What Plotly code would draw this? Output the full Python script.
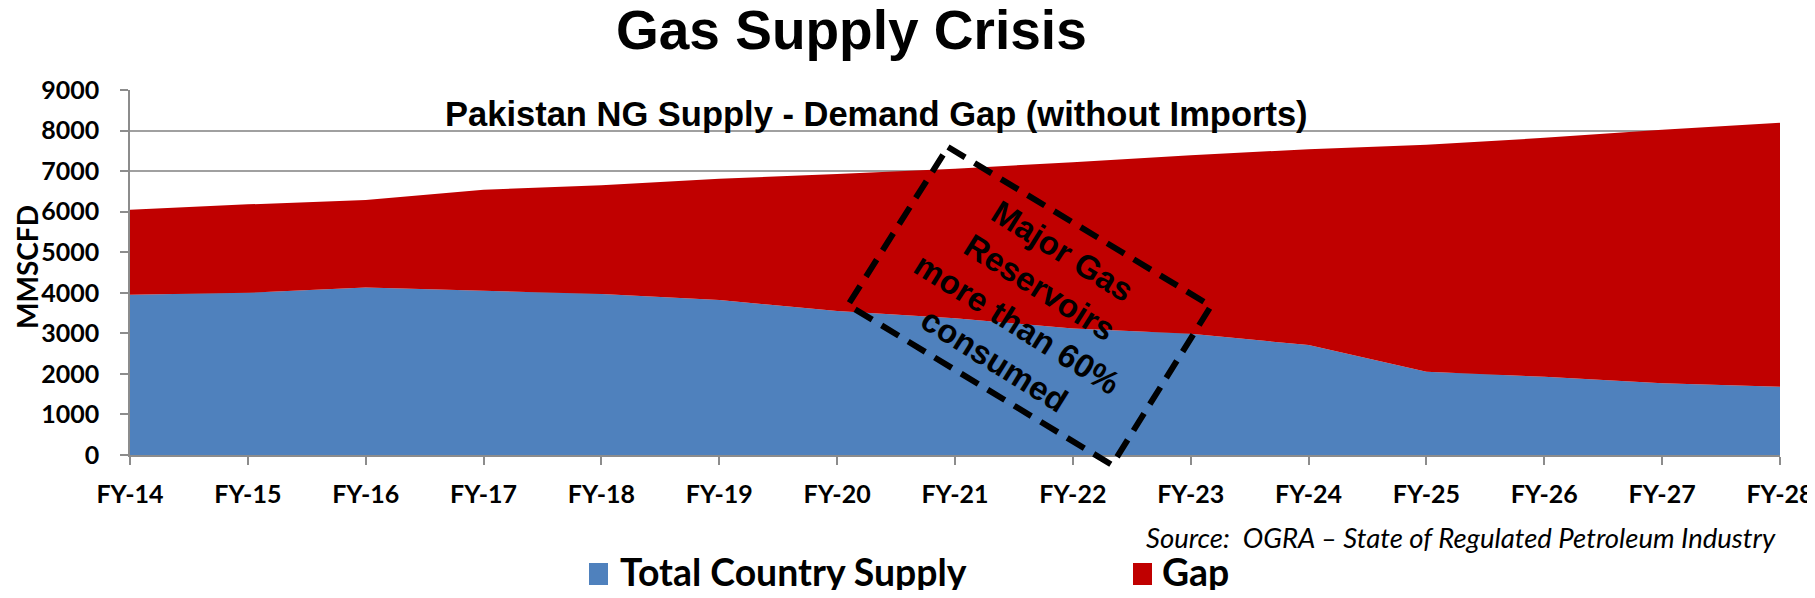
import plotly.graph_objects as go

# ---- data (MMSCFD) ----
years = ["FY-14", "FY-15", "FY-16", "FY-17", "FY-18", "FY-19", "FY-20", "FY-21",
         "FY-22", "FY-23", "FY-24", "FY-25", "FY-26", "FY-27", "FY-28"]
total_supply = [3950, 4000, 4130, 4050, 3970, 3820, 3550, 3370, 3120, 2990, 2710, 2050, 1930, 1770, 1680]
gap = [2100, 2180, 2160, 2490, 2680, 2990, 3380, 3690, 4100, 4400, 4830, 5600, 5890, 6250, 6510]
y_ticks = [0, 1000, 2000, 3000, 4000, 5000, 6000, 7000, 8000, 9000]

BLUE = "#4F81BD"
RED = "#C00000"
OFF = 8                       # default page body margin
W, H = 1815 - 2 * OFF, 598 - 2 * OFF
# plot area in page pixels: x 130..1780, y 90..455
L, T = 130 - OFF, 90 - OFF
R, B = W - (1780 - OFF), H - (455 - OFF)
PW, PH = W - L - R, H - T - B


def px(x):
    """page pixel x -> paper"""
    return (x - OFF - L) / PW


def py(y):
    """page pixel y -> paper"""
    return (H - B - (y - OFF)) / PH


fig = go.Figure()
fig.add_trace(go.Scatter(x=years, y=total_supply, name="Total Country Supply", stackgroup="one",
                         mode="none", fillcolor=BLUE, showlegend=False))
fig.add_trace(go.Scatter(x=years, y=gap, name="Gap", stackgroup="one",
                         mode="none", fillcolor=RED, showlegend=False))

grid = "#A0A0A0"
fig.update_layout(
    width=W, height=H,
    margin=dict(l=L, r=R, t=T, b=B, autoexpand=False),
    paper_bgcolor="white", plot_bgcolor="white",
    showlegend=False,
    xaxis=dict(type="category", range=[0, len(years) - 1], showgrid=False, automargin=False,
               showline=True, linecolor="#8C8C8C", linewidth=1.5,
               ticks="outside", ticklen=8, tickcolor="#8C8C8C", tickwidth=1.5,
               tickfont=dict(family="Lato", size=25, color="black", weight="bold"),
               ticklabelstandoff=8),
    yaxis=dict(range=[0, 9000], tickvals=y_ticks, showgrid=True, gridcolor=grid, gridwidth=1.5,
               automargin=False,
               showline=True, linecolor="#8C8C8C", linewidth=1.5, zeroline=False,
               ticks="outside", ticklen=8, tickcolor="#8C8C8C", tickwidth=1.5,
               tickfont=dict(family="Lato", size=25, color="black", weight="bold"),
               ticklabelstandoff=16),
)

ann = []
# main title
ann.append(dict(text="<b>Gas Supply Crisis</b>", x=px(851), y=py(30), xref="paper", yref="paper",
                xanchor="center", yanchor="middle", showarrow=False,
                font=dict(family="Liberation Sans", size=55, color="black")))
# subtitle
ann.append(dict(text="<b>Pakistan NG Supply - Demand Gap (without Imports)</b>", x=px(876), y=py(114),
                xref="paper", yref="paper", xanchor="center", yanchor="middle", showarrow=False,
                font=dict(family="Liberation Sans", size=34.5, color="black")))
# y-axis title
ann.append(dict(text="<b>MMSCFD</b>", x=px(27), y=py(267), xref="paper", yref="paper",
                xanchor="center", yanchor="middle", showarrow=False, textangle=-90,
                font=dict(family="Lato", size=28, color="black")))
# source
ann.append(dict(text="<i>Source:  OGRA – State of Regulated Petroleum Industry</i>", x=px(1778), y=py(537),
                xref="paper", yref="paper", xanchor="right", yanchor="middle", showarrow=False,
                font=dict(family="Lato", size=27.5, color="black")))
# rotated box text
ann.append(dict(text="<b>Major Gas<br>Reservoirs<br>more than 60%<br>consumed</b>", x=px(1029), y=py(306),
                xref="paper", yref="paper", xanchor="center", yanchor="middle", showarrow=False,
                textangle=32, font=dict(family="Liberation Sans", size=33, color="black")))
# legend texts
ann.append(dict(text="<b>Total Country Supply</b>", x=px(618), y=py(571), xref="paper", yref="paper",
                xanchor="left", yanchor="middle", showarrow=False,
                font=dict(family="Lato", size=37.4, color="black")))
ann.append(dict(text="<b>Gap</b>", x=px(1160), y=py(571), xref="paper", yref="paper",
                xanchor="left", yanchor="middle", showarrow=False,
                font=dict(family="Lato", size=37.4, color="black")))

shapes = []
# legend swatches
shapes.append(dict(type="rect", xref="paper", yref="paper", x0=px(589), x1=px(608), y0=py(585), y1=py(563),
                   fillcolor=BLUE, line=dict(width=0)))
shapes.append(dict(type="rect", xref="paper", yref="paper", x0=px(1133), x1=px(1152), y0=py(585), y1=py(563),
                   fillcolor=RED, line=dict(width=0)))
# dashed rotated box
corners = [(948, 147), (1211, 306), (1112, 465), (848, 305)]
path = "M " + " L ".join(f"{px(x):.5f},{py(y):.5f}" for x, y in corners) + " Z"
shapes.append(dict(type="path", xref="paper", yref="paper", path=path,
                   line=dict(color="black", width=6, dash="20px,11px")))

fig.update_layout(annotations=ann, shapes=shapes)
fig.write_html("out.html", config={"displayModeBar": False})
